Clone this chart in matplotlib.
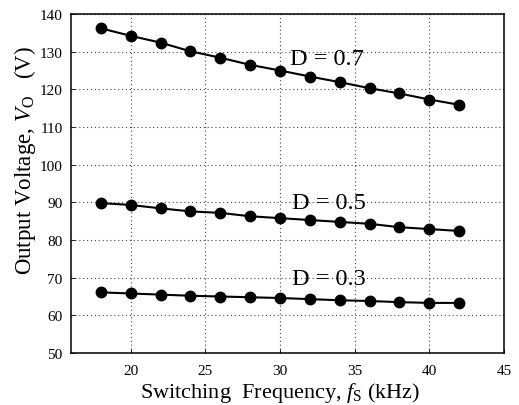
import matplotlib
matplotlib.use('Agg')
import matplotlib.pyplot as plt

plt.rcParams['font.family'] = ['Liberation Serif', 'DejaVu Serif']
plt.rcParams['mathtext.fontset'] = 'custom'
plt.rcParams['mathtext.rm'] = 'Liberation Serif'
plt.rcParams['mathtext.it'] = 'Liberation Serif:italic'

# switching frequency (kHz)
freq = [18, 20, 22, 24, 26, 28, 30, 32, 34, 36, 38, 40, 42]
# output voltage (V) for each duty ratio
v_d07 = [136.2, 134.2, 132.4, 130.1, 128.4, 126.5, 125.0, 123.4, 121.9, 120.3, 118.9, 117.3, 115.9]
v_d05 = [89.8, 89.3, 88.4, 87.6, 87.2, 86.3, 85.8, 85.3, 84.8, 84.3, 83.4, 82.9, 82.4]
v_d03 = [66.1, 65.8, 65.5, 65.2, 65.0, 64.8, 64.6, 64.3, 64.0, 63.8, 63.5, 63.3, 63.3]
labels = ['D = 0.7', 'D = 0.5', 'D = 0.3']
label_pos = [(30.7, 128.2), (30.8, 90.0), (30.8, 69.8)]

fig = plt.figure(figsize=(5.19, 4.06), dpi=100)
ax = fig.add_axes([71/519, 1-354/406, 433/519, 339/406])

for v in (v_d07, v_d05, v_d03):
    ax.plot(freq, v, 'k-', marker='o', markersize=7.5, linewidth=1.5)

for txt, (x, y) in zip(labels, label_pos):
    ax.text(x, y, txt, fontsize=17.5, va='center', ha='left')

ax.set_xlim(16, 45)
ax.set_ylim(50, 140)
ax.set_xticks([20, 25, 30, 35, 40, 45])
ax.set_yticks(range(50, 141, 10))
ax.grid(True, linestyle=(0, (1, 2.5)), color='#444444', linewidth=0.8)
ax.tick_params(direction='in', labelsize=11, length=3, width=0.6)
ax.tick_params(axis='x', pad=8)
ax.tick_params(axis='y', pad=6)
for s in ax.spines.values():
    s.set_linewidth(1.1)

ax.set_xlabel(r'Switching  Frequency, $\mathit{f}_{\mathrm{S}}$ (kHz)', fontsize=16)
ax.set_ylabel(r'Output Voltage, $\mathit{V}_{\mathrm{O}}$   (V)', fontsize=16.5)
ax.xaxis.set_label_coords(0.483, -0.08)
ax.yaxis.set_label_coords(-0.076, 0.572)

fig.savefig('out.png', dpi=100)
